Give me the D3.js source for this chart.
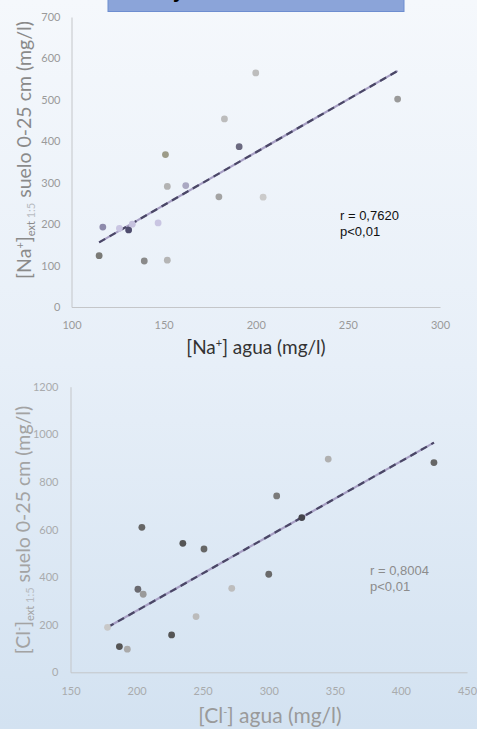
<!DOCTYPE html>
<html>
<head>
<meta charset="utf-8">
<script src="https://cdn.jsdelivr.net/npm/d3@7"></script>
<style>
  html, body { margin: 0; padding: 0; }
  body { width: 477px; height: 729px; overflow: hidden; }
</style>
</head>
<body>
<script>
// datos
var naAgua  = [200, 277, 183, 191, 151, 152, 162, 180, 204, 147, 117, 126, 131, 133, 115, 139.5, 152];
var naSuelo = [565, 502, 454, 387, 368, 291, 293, 266, 265, 203, 193, 190, 186, 200, 124, 111, 113];
var naTrend = [[115, 156], [277, 570]];
var naXTicks = [100, 150, 200, 250, 300];
var naYTicks = [0, 100, 200, 300, 400, 500, 600, 700];

var clAgua  = [345, 425, 306, 204, 235, 251, 300, 272, 201, 205, 325, 178, 187, 193, 226.5, 245];
var clSuelo = [896, 881, 741, 609, 542, 518, 412, 353, 349, 328, 650, 189, 108, 97, 157, 234];
var clTrend = [[178, 189], [425, 965]];
var clXTicks = [150, 200, 250, 300, 350, 400, 450];
var clYTicks = [0, 200, 400, 600, 800, 1000, 1200];

// tonos de los marcadores (estilo)
var naShades = ["#bdbdbd", "#9a9a9a", "#bcbcbc", "#6b6a80", "#9c9b88", "#b3b3b3", "#aaa8c2", "#a3a3a3",
                "#cbcbcb", "#c9c5e2", "#8d8aab", "#c9c5e2", "#4f4d6e", "#c6c2de", "#7a7a76", "#8a8a8a", "#b5b5b5"];
var clShades = ["#b0b0b0", "#666", "#7a7a7a", "#666", "#555", "#666", "#6a6a6a", "#bdbdbd",
                "#6a6a70", "#9a9a9a", "#44444c", "#c8c8c8", "#555", "#aaa", "#555", "#bbbbbb"];

var W = 477, H = 729;

var svg = d3.select("body").append("svg")
  .attr("width", W)
  .attr("height", H);

var defs = svg.append("defs");
var grad = defs.append("linearGradient")
  .attr("id", "bg").attr("x1", 0).attr("y1", 0).attr("x2", 0).attr("y2", 1);
grad.append("stop").attr("offset", "0%").attr("stop-color", "#f5f8fc");
grad.append("stop").attr("offset", "50%").attr("stop-color", "#e7eff8");
grad.append("stop").attr("offset", "100%").attr("stop-color", "#d3e2f1");

svg.append("rect").attr("width", W).attr("height", H).attr("fill", "url(#bg)");

// caja del título (cortada arriba, como en la imagen)
svg.append("rect")
  .attr("x", 108).attr("y", -5).attr("width", 296).attr("height", 16.5)
  .attr("fill", "#8ba4d9").attr("stroke", "#6d8dd0").attr("stroke-width", 1);
svg.append("text")
  .attr("x", 135).attr("y", -2)
  .style("font-family", "Liberation Sans, Arial, sans-serif")
  .style("font-weight", "bold").style("font-size", "20px")
  .text("Na⁺ y Cl⁻");

function scatter(cfg) {
  var x = d3.scaleLinear().domain(cfg.xDomain).range(cfg.xRange);
  var y = d3.scaleLinear().domain(cfg.yDomain).range(cfg.yRange);
  var g = svg.append("g");

  var xAxis = g.append("g")
    .attr("transform", "translate(0," + cfg.yRange[0] + ")")
    .call(d3.axisBottom(x).tickValues(cfg.xTicks).tickSize(0).tickPadding(cfg.xPad).tickFormat(d3.format("d")));
  var yAxis = g.append("g")
    .attr("transform", "translate(" + cfg.xRange[0] + ",0)")
    .call(d3.axisLeft(y).tickValues(cfg.yTicks).tickSize(0).tickPadding(cfg.yPad).tickFormat(d3.format("d")));

  [xAxis, yAxis].forEach(function(a) {
    a.select(".domain").attr("stroke", "#c4c6c9").attr("stroke-width", 1);
    a.selectAll("text")
      .style("font-family", "Lato, 'Open Sans', sans-serif")
      .style("font-size", "11px")
      .attr("fill", cfg.tickColor);
  });

  // línea de tendencia: base clara + trazos oscuros
  var line = d3.line().x(function(d){ return x(d[0]); }).y(function(d){ return y(d[1]); });
  g.append("path").attr("d", line(cfg.trend))
    .attr("fill", "none").attr("stroke", "#a79fc4").attr("stroke-width", 2.2);
  g.append("path").attr("d", line(cfg.trend))
    .attr("fill", "none").attr("stroke", "#4a4766").attr("stroke-width", 2.2)
    .attr("stroke-dasharray", "7,5");

  g.selectAll("circle.pt")
    .data(cfg.xs.map(function(v, i){ return [v, cfg.ys[i]]; }))
    .enter().append("circle")
    .attr("class", "pt")
    .attr("cx", function(d){ return x(d[0]); })
    .attr("cy", function(d){ return y(d[1]); })
    .attr("r", 3.4)
    .attr("fill", function(d, i){ return cfg.shades[i]; });

  // estadísticos
  var st = g.append("text")
    .attr("x", cfg.statX).attr("y", cfg.statY)
    .style("font-family", "Liberation Sans, Arial, sans-serif")
    .style("font-size", "13px")
    .attr("fill", cfg.statColor);
  st.append("tspan").attr("x", cfg.statX).text(cfg.r);
  st.append("tspan").attr("x", cfg.statX).attr("dy", 15.5).text("p<0,01");

  // título eje x
  var xt = g.append("text")
    .attr("x", cfg.xTitleX).attr("y", cfg.xTitleY)
    .attr("text-anchor", "middle")
    .style("font-family", "Lato, 'Open Sans', sans-serif")
    .style("font-size", cfg.xTitleSize + "px")
    .attr("fill", cfg.xTitleColor);
  xt.append("tspan").text("[" + cfg.ion);
  xt.append("tspan").attr("dy", -7).style("font-size", "11px").text(cfg.charge);
  xt.append("tspan").attr("dy", 7).text("] agua (mg/l)");

  // título eje y (rotado)
  var yt = g.append("text")
    .attr("transform", "translate(" + cfg.yTitleX + "," + cfg.yTitleY + ") rotate(-90)")
    .attr("text-anchor", "middle")
    .style("font-family", "Lato, 'Open Sans', sans-serif")
    .style("font-size", cfg.yTitleSize + "px")
    .attr("fill", cfg.yTitleColor);
  yt.append("tspan").text("[" + cfg.ion);
  yt.append("tspan").attr("dy", -7).style("font-size", "11px").text(cfg.charge);
  yt.append("tspan").attr("dy", 7).text("]");
  yt.append("tspan").attr("dy", 4).style("font-size", "11px").text("ext");
  yt.append("tspan").style("font-size", "11px").attr("fill", "#b8bcc2").text(" 1:5");
  yt.append("tspan").attr("dy", -4).text(" suelo 0-25 cm (mg/l)");
}

scatter({
  xs: naAgua, ys: naSuelo, trend: naTrend, shades: naShades,
  xDomain: [100, 300], xRange: [71.5, 440],
  yDomain: [0, 700], yRange: [307, 17],
  xTicks: naXTicks, yTicks: naYTicks,
  xPad: 14, yPad: 11, tickColor: "#9a9a9a",
  r: "r = 0,7620", statX: 340, statY: 220, statColor: "#111",
  ion: "Na", charge: "+",
  xTitleX: 256, xTitleY: 354, xTitleColor: "#333", xTitleSize: 19,
  yTitleX: 31, yTitleY: 150, yTitleColor: "#8a8a8a", yTitleSize: 19.5
});

scatter({
  xs: clAgua, ys: clSuelo, trend: clTrend, shades: clShades,
  xDomain: [150, 450], xRange: [70.5, 467],
  yDomain: [0, 1200], yRange: [672.3, 386.7],
  xTicks: clXTicks, yTicks: clYTicks,
  xPad: 15, yPad: 12, tickColor: "#a9abad",
  r: "r = 0,8004", statX: 370, statY: 575, statColor: "#8c8c8c",
  ion: "Cl", charge: "-",
  xTitleX: 270, xTitleY: 723, xTitleColor: "#9a9a9a", xTitleSize: 21,
  yTitleX: 30, yTitleY: 530, yTitleColor: "#a3a3a3", yTitleSize: 19.5
});
</script>
</body>
</html>
